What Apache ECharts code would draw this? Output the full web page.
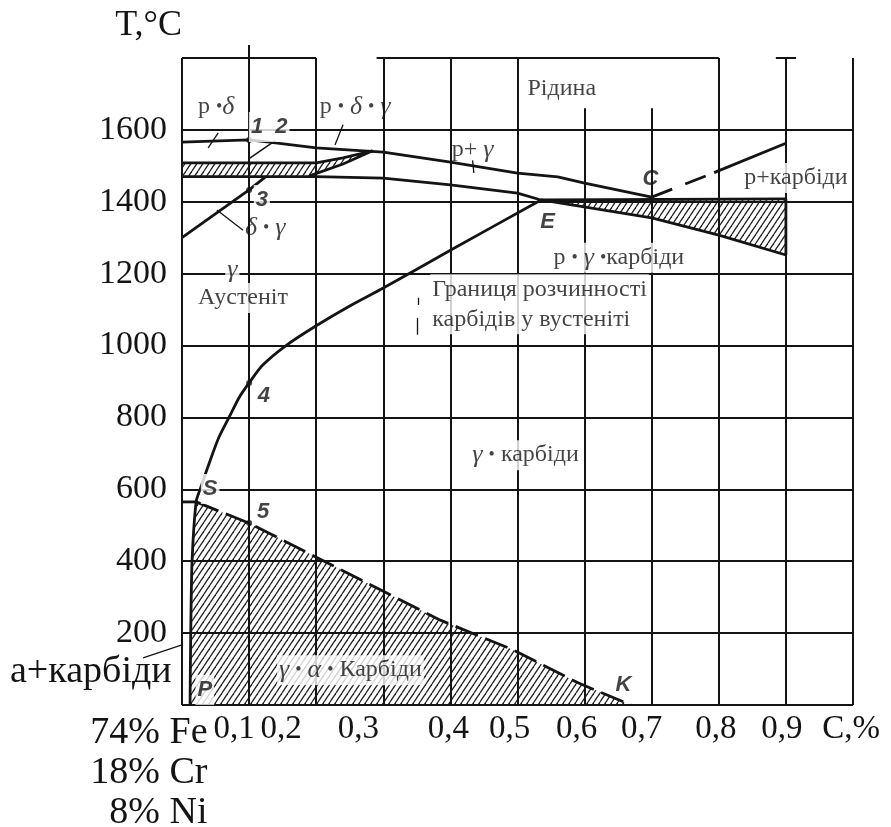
<!DOCTYPE html>
<html><head><meta charset="utf-8">
<script src="https://cdn.jsdelivr.net/npm/echarts@6/dist/echarts.min.js"></script>
<style>html,body{margin:0;padding:0;background:#fff}#c{width:891px;height:827px}</style>
</head><body><div id="c"></div>
<script>
// ---------- data (C %, T °C) ----------
const xTickLabels = ['74% Fe','0,1','0,2','0,3','0,4','0,5','0,6','0,7','0,8','0,9','C,%'];
const composition = ['18% Cr','8% Ni'];
const yTickLabels = ['','200','400','600','800','1000','1200','1400','1600',''];
const gridX = [0,0.1,0.2,0.3,0.4,0.5,0.6,0.7,0.8,0.9,1.0];
const gridY = [0,200,400,600,800,1000,1200,1400,1600];

const liquidus = [[0,1566],[0.1,1572],[0.13,1566],[0.2,1550],[0.3,1538],[0.4,1510],[0.5,1480],[0.56,1469],[0.6,1452],[0.7,1413]];
const liqCarbDashed = [[0.7,1413],[0.793,1481]];
const liqCarbSolid = [[0.793,1481],[0.9,1563]];
const solidus = [[0,1470],[0.2,1470],[0.3,1466],[0.4,1447],[0.5,1424],[0.535,1405]];
const deltaTop = [[0,1508],[0.2,1508],[0.24,1522],[0.284,1542]];
const deltaWedgeBottom = [[0.19,1472],[0.24,1505],[0.284,1542]];
const deltaGamma = [[0,1300],[0.1,1433],[0.125,1470]];
const deltaGamma2 = [[0.1,1520],[0.139,1570]];
const eutectic = [[0.535,1405],[0.9,1408]];
const eutecticBottom = [[0.535,1405],[0.7,1355],[0.8,1307],[0.9,1252]];
const eutecticRight = [[0.9,1408],[0.9,1252]];
const solvus = [[0.012,0],[0.013,200],[0.015,400],[0.021,565],[0.027,600],[0.04,670],[0.055,745],[0.072,807],[0.085,855],[0.1,896],[0.12,945],[0.155,1000],[0.2,1055],[0.25,1110],[0.3,1160],[0.4,1265],[0.535,1405]];
const sLevel = [[0,565],[0.021,565]];
const skLine = [[0.021,565],[0.1,506],[0.385,236],[0.494,153],[0.591,61],[0.669,0]];
const markedPoints = [[0.1,1572],[0.1,1433],[0.1,896],[0.1,506]];

// ---------- styles ----------
const BLACK = '#141414';
const serif = "'Liberation Serif','Times New Roman',serif";
const sans = "'Liberation Sans',Arial,sans-serif";

// hatch pattern
const pc = document.createElement('canvas');
pc.width = 6; pc.height = 9;
const g = pc.getContext('2d');
g.strokeStyle = '#222'; g.lineWidth = 1.3;
[-6,0,6].forEach(o => { g.beginPath(); g.moveTo(o,9); g.lineTo(o+6,0); g.stroke(); });
const hatch = {image: pc, repeat: 'repeat'};

const chart = echarts.init(document.getElementById('c'), null, {renderer:'canvas'});

function curve(data, width, type, smooth) {
  return {type:'line', data, symbol:'none', showSymbol:false, silent:true, clip:false, animation:false,
    smooth: smooth || false,
    lineStyle:{color:BLACK, width: width || 2.8, type: type || 'solid', cap:'butt', join:'round'}, z:3};
}
function poly(points) {
  return {type:'custom', coordinateSystem:'cartesian2d', data:[[0,0]], silent:true, clip:false, z:1, animation:false,
    renderItem: (params, api) => ({type:'polygon', shape:{points: points.map(p => api.coord(p))}, style:{fill:hatch, stroke:null}})};
}

// grid segments
const gridSegs = [];
gridX.forEach(x => {
  let top = 1800;
  if (Math.abs(x-0.1) < 1e-6) top = 1836;
  if (Math.abs(x-0.6) < 1e-6 || Math.abs(x-0.7) < 1e-6) top = 1660;
  gridSegs.push({coords:[[x,0],[x,top]]});
});
gridY.forEach(t => gridSegs.push({coords:[[0,t],[1,t]]}));
[[0,0.2],[0.29,0.8],[0.885,0.915]].forEach(([a,b]) => gridSegs.push({coords:[[a,1800],[b,1800]]}));

const pointers = [
  [[0.039,1550],[0.054,1592]],
  [[0.228,1558],[0.24,1614]],
  [[0.052,1377],[0.091,1321]],
  [[0.433,1515],[0.435,1480]],
  [[0.352,1133],[0.352,1113]],
  [[0.351,1077],[0.351,1030]],
  [[-0.058,131],[0.0,167]]
].map(c => ({coords:c}));

// hatched regions
const hatchDelta = deltaTop.concat(deltaWedgeBottom.slice().reverse(), [[0,1470]]);
const hatchEut = eutectic.concat(eutecticBottom.slice().reverse());
const hatchLow = solvus.filter(p => p[1] <= 565).concat(skLine.slice(1));

// annotations
const rich = {
  g: {fontFamily: serif, fontStyle:'italic', fontSize: 26, color: BLACK},
  b: {fontFamily: serif, fontSize: 18, color: BLACK}
};
const labelSerif = {fontFamily: serif, fontSize: 24, color: BLACK};
const labelNum = {fontFamily: sans, fontStyle:'italic', fontWeight:'bold', fontSize: 22, color: BLACK};
const notes = [
  ['Рідина', 0.566, 1714, 'serif', true, 'center'],
  ['р+карбіди', 0.915, 1466, 'serif', true, 'center'],
  ['р {b|•} {g|γ} {b|•}карбіди', 0.651, 1244, 'serif', true, 'center'],
  ['Границя розчинності\nкарбідів у вустеніті', 0.37, 1115, 'serif', true, 'left'],
  ['Аустеніт', 0.091, 1132, 'serif', true, 'center'],
  ['{g|γ} {b|•} карбіди', 0.512, 695, 'serif', true, 'center'],
  ['{g|γ} {b|•} {g|α} {b|•} Карбіди', 0.251, 97, 'serif', true, 'center'],
  ['р {b|•}{g|δ}', 0.051, 1664, 'serif', false, 'center'],
  ['р {b|•} {g|δ} {b|•} {g|γ}', 0.258, 1664, 'serif', false, 'center'],
  ['р+ {g|γ}', 0.433, 1544, 'serif', false, 'center'],
  ['{g|δ} {b|•} {g|γ}', 0.124, 1327, 'serif', false, 'center'],
  ['{g|γ}', 0.075, 1210, 'serif', true, 'center'],
  ['1  2', 0.13, 1608, 'num', true, 'center'],
  ['3', 0.119, 1405, 'num', true, 'center'],
  ['4', 0.122, 860, 'num', false, 'center'],
  ['5', 0.121, 537, 'num', false, 'center'],
  ['S', 0.042, 601, 'num', true, 'center'],
  ['E', 0.545, 1344, 'num', false, 'center'],
  ['C', 0.698, 1463, 'num', false, 'center'],
  ['K', 0.658, 56, 'num', false, 'center'],
  ['P', 0.034, 42, 'num', true, 'center']
];
const noteData = notes.map(([text, x, t, kind, bg, align]) => ({
  value:[x,t],
  label: Object.assign({show:true, position:'inside', formatter:text, align, verticalAlign:'middle',
    lineHeight: 30, rich, backgroundColor: bg ? '#fff' : 'transparent', padding: bg ? [0,2] : 0},
    kind === 'num' ? labelNum : labelSerif)
}));

// x label shifts (px, to the left) to mimic the original placement
const xShift = [0,15,35,25,2,8,8,10,3,4,2];
const xRich = {
  // narrow box, right-aligned text that overflows to the left: right edge ~25px right of the tick
  fe: {fontFamily: serif, fontSize: 38, color: BLACK, width: 1, align:'right', padding:[0,0,0,50], lineHeight: 40, overflow:'none'}
};
for (let i = 1; i <= 10; i++) xRich['s'+i] = {fontFamily: serif, fontSize: 33, color: BLACK, padding:[0, 2*xShift[i], 0, 0]};

chart.setOption({
  animation:false,
  backgroundColor:'#fff',
  grid:{left:182, right:38, top:58, bottom:122, containLabel:false, outerBoundsMode:'none'},
  xAxis:{type:'value', min:0, max:1, interval:0.1,
    axisLine:{show:false}, axisTick:{show:false}, splitLine:{show:false},
    axisLabel:{show:true, showMinLabel:true, showMaxLabel:true, hideOverlap:false, margin:8, rich: xRich,
      formatter: v => { const i = Math.round(v*10);
        if (i === 0) return [xTickLabels[0]].concat(composition).map(s => '{fe|'+s+'}').join('\n');
        return '{s'+i+'|'+xTickLabels[i]+'}'; }}},
  yAxis:{type:'value', min:0, max:1800, interval:200,
    name:'T,°C', nameLocation:'end', nameGap:14,
    nameTextStyle:{fontFamily:serif, fontSize:36, color:BLACK, align:'right', verticalAlign:'bottom'},
    axisLine:{show:false}, axisTick:{show:false}, splitLine:{show:false},
    axisLabel:{show:true, margin:15, fontFamily:serif, fontSize:34, color:BLACK, padding:[0,0,8,0],
      formatter: v => yTickLabels[Math.round(v/200)] || ''}},
  graphic:[
    {type:'text', left:10, top:653, z:50, style:{text:'а+карбіди', font:"38px 'Liberation Serif'", fill:BLACK}}
  ],
  series:[
    poly(hatchDelta), poly(hatchEut), poly(hatchLow),
    {type:'lines', coordinateSystem:'cartesian2d', data:gridSegs, silent:true, clip:false, z:2, animation:false,
      lineStyle:{color:BLACK, width:2, opacity:1, curveness:0}},
    {type:'lines', coordinateSystem:'cartesian2d', data:pointers, silent:true, clip:false, z:2, animation:false,
      lineStyle:{color:BLACK, width:1.3, opacity:1, curveness:0}},
    curve(liquidus), curve(liqCarbDashed, 2.8, [22,14]), curve(liqCarbSolid),
    curve(solidus), curve(deltaTop), curve(deltaWedgeBottom), curve(deltaGamma), curve(deltaGamma2, 1.6),
    curve(eutectic), curve(eutecticBottom), curve(eutecticRight),
    curve(solvus, 2.8, 'solid', 0.25), curve(sLevel), curve(skLine, 2.8, [24,8]),
    {type:'scatter', data:markedPoints, symbol:'circle', symbolSize:6, itemStyle:{color:BLACK}, silent:true, z:4, animation:false},
    {type:'scatter', data:noteData, symbol:'circle', symbolSize:1, itemStyle:{color:'rgba(0,0,0,0)'}, silent:true, clip:false, z:10, animation:false}
  ]
});
</script>
</body></html>
